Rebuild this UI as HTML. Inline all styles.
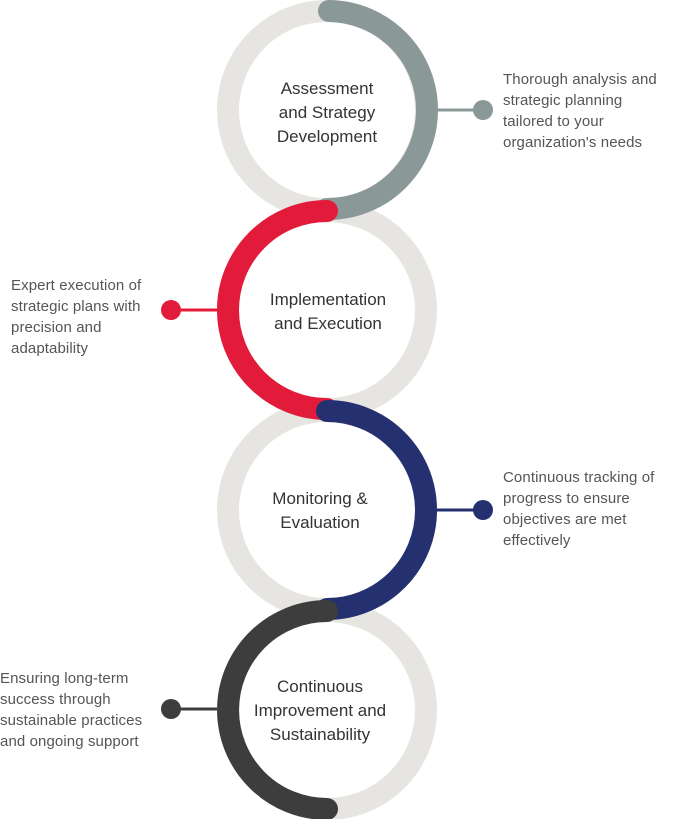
<!DOCTYPE html>
<html><head><meta charset="utf-8"><style>
html,body{margin:0;padding:0;background:#fff;}
svg{display:block;}
text{font-family:"Liberation Sans",Arial,sans-serif;}
.l{font-size:17px;fill:#333;text-anchor:middle;}
.d{font-size:15px;fill:#555;letter-spacing:0.1px;}
</style></head><body>
<svg width="673" height="819" viewBox="0 0 673 819" xmlns="http://www.w3.org/2000/svg">
<g fill="none" stroke="#e6e5e1" stroke-width="22">
<circle cx="327" cy="110" r="99"/>
<circle cx="327" cy="310" r="99"/>
<circle cx="327" cy="510" r="99"/>
<circle cx="327" cy="710" r="99"/>
</g>
<g fill="none" stroke-width="22" stroke-linecap="round">
<path d="M329,11 A99,99 0 0 1 327,209" stroke="#8a9898"/>
<path d="M327,211 A99,99 0 0 0 327,409" stroke="#e31b3a"/>
<path d="M327,411 A99,99 0 0 1 327,609" stroke="#253071"/>
<path d="M327,611 A99,99 0 0 0 327,809" stroke="#3d3d3d"/>
</g>
<line x1="437" y1="110" x2="483" y2="110" stroke="#8a9898" stroke-width="3"/>
<circle cx="483" cy="110" r="10" fill="#8a9898"/>
<line x1="171" y1="310" x2="217" y2="310" stroke="#e31b3a" stroke-width="3"/>
<circle cx="171" cy="310" r="10" fill="#e31b3a"/>
<line x1="437" y1="510" x2="483" y2="510" stroke="#253071" stroke-width="3"/>
<circle cx="483" cy="510" r="10" fill="#253071"/>
<line x1="171" y1="709" x2="217" y2="709" stroke="#3d3d3d" stroke-width="3"/>
<circle cx="171" cy="709" r="10" fill="#3d3d3d"/>

<text class="l" x="327" y="94">Assessment</text>
<text class="l" x="327" y="118">and Strategy</text>
<text class="l" x="327" y="142">Development</text>
<text class="l" x="328" y="305">Implementation</text>
<text class="l" x="328" y="329">and Execution</text>
<text class="l" x="320" y="504">Monitoring &amp;</text>
<text class="l" x="320" y="528">Evaluation</text>
<text class="l" x="320" y="692">Continuous</text>
<text class="l" x="320" y="716">Improvement and</text>
<text class="l" x="320" y="740">Sustainability</text>

<text class="d" x="503" y="84">Thorough analysis and</text>
<text class="d" x="503" y="105">strategic planning</text>
<text class="d" x="503" y="126">tailored to your</text>
<text class="d" x="503" y="147">organization's needs</text>
<text class="d" x="11" y="290">Expert execution of</text>
<text class="d" x="11" y="311">strategic plans with</text>
<text class="d" x="11" y="332">precision and</text>
<text class="d" x="11" y="353">adaptability</text>
<text class="d" x="503" y="482">Continuous tracking of</text>
<text class="d" x="503" y="503">progress to ensure</text>
<text class="d" x="503" y="524">objectives are met</text>
<text class="d" x="503" y="545">effectively</text>
<text class="d" x="0" y="683">Ensuring long-term</text>
<text class="d" x="0" y="704">success through</text>
<text class="d" x="0" y="725">sustainable practices</text>
<text class="d" x="0" y="746">and ongoing support</text>
</svg>
</body></html>
